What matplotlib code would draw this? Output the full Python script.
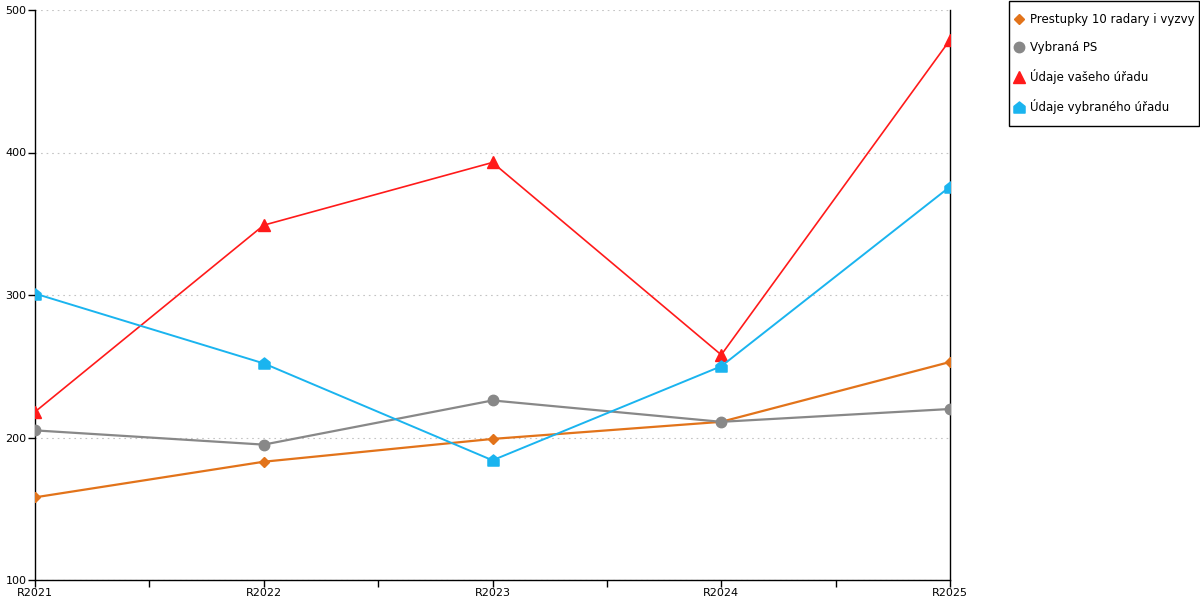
import matplotlib
matplotlib.use("Agg")
import matplotlib.pyplot as plt
from matplotlib.path import Path
from matplotlib.patches import Rectangle
import numpy as np

categories = ["R2021", "R2022", "R2023", "R2024", "R2025"]
prestupky = [158, 183, 199, 211, 253]
vybrana_ps = [205, 195, 226, 211, 220]
vaseho_uradu = [218, 349, 393, 258, 479]
vybraneho_uradu = [301, 252, 184, 250, 376]
yticks = [100, 200, 300, 400, 500]

house = Path([(-1, -1), (1, -1), (1, 0.2), (0, 1), (-1, 0.2), (-1, -1)],
             [Path.MOVETO, Path.LINETO, Path.LINETO, Path.LINETO, Path.LINETO, Path.CLOSEPOLY])

plt.rcParams['font.family'] = ['DejaVu Sans']
fig = plt.figure(figsize=(12, 6), dpi=100)
ax = fig.add_axes([35/1200, 20/600, 915/1200, 570/600])
x = np.arange(len(categories))

ax.plot(x, prestupky, color="#e2731a", lw=1.6, marker="D", ms=5.5, label="Prestupky 10 radary i vyzvy", zorder=3)
ax.plot(x, vybrana_ps, color="#888888", lw=1.6, marker="o", ms=7.5, label="Vybraná PS", zorder=3)
ax.plot(x, vaseho_uradu, color="#ff1a1a", lw=1.2, marker="^", ms=8, label="Údaje vašeho úřadu", zorder=4)
ax.plot(x, vybraneho_uradu, color="#1ab4ef", lw=1.4, marker=house, ms=8, label="Údaje vybraného úřadu", zorder=4)

ax.set_xlim(0, len(categories) - 1)
ax.set_ylim(100, 500)
ax.set_yticks(yticks)
ax.set_yticklabels([str(v) for v in yticks], fontsize=8)
ax.set_xticks(x)
ax.set_xticklabels(categories, fontsize=8)
ax.set_xticks(x[:-1] + 0.5, minor=True)
ax.tick_params(axis='both', which='both', direction='out', length=5, width=1, pad=1, colors='black')
ax.grid(axis='y', color='#c4c4c4', linestyle=(0, (1.5, 3.5)), lw=0.8)
ax.set_axisbelow(True)
ax.spines['top'].set_visible(False)
ax.spines['right'].set_color('black')
for s in ['left', 'bottom', 'right']:
    ax.spines[s].set_linewidth(1)

# legend box
fig.patches.append(Rectangle((1009/1200, 1 - 126/600), 190/1200, 125/600,
                             transform=fig.transFigure, fill=False, edgecolor='black', lw=1))
leg = fig.legend(loc='upper left', bbox_to_anchor=(1008.5/1200, 1 - 7/600), fontsize=8.5,
                 frameon=False, handlelength=0.8, handletextpad=0.53,
                 labelspacing=1.28, borderpad=0.5, borderaxespad=0)
for h in leg.legend_handles:
    h.set_linestyle('none')

fig.savefig("out.png", dpi=100)
